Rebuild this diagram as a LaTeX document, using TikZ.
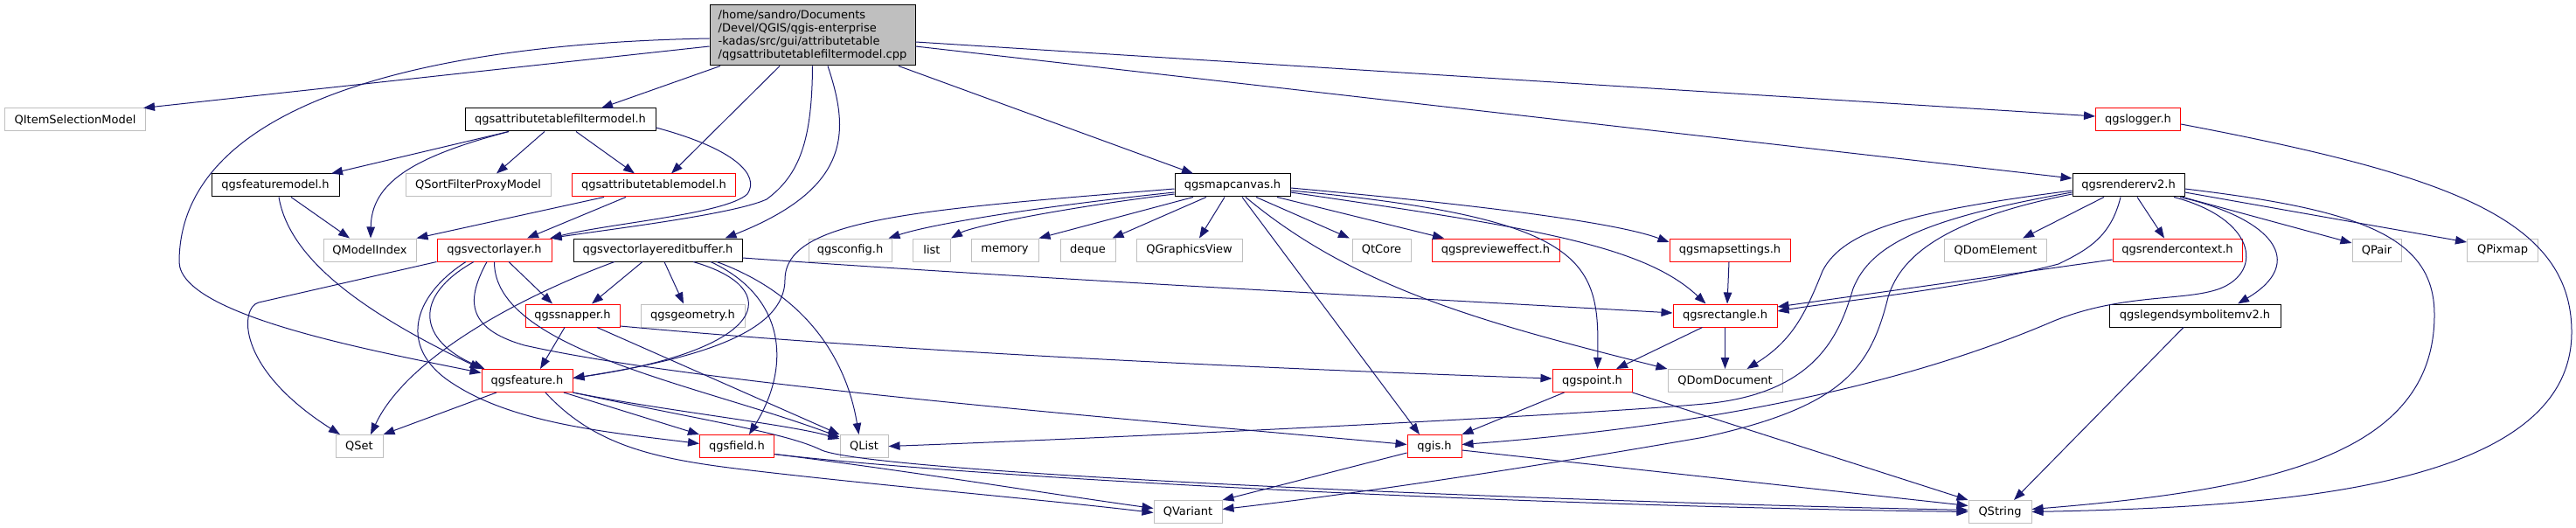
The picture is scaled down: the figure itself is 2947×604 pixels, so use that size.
\documentclass[tikz,border=0pt]{standalone}
\usepackage{fontspec}
\setmainfont{DejaVu Sans}
\usetikzlibrary{arrows.meta}
\definecolor{edgeblue}{HTML}{191970}
\definecolor{nodered}{HTML}{FF0000}
\definecolor{nodegray}{HTML}{BFBFBF}
\tikzset{
  nd/.style={draw, line width=1pt, fill=white, inner sep=0pt, minimum height=26pt,
    font=\fontsize{13}{15}\selectfont, anchor=center},
  rn/.style={nd, draw=nodered},
  bn/.style={nd, draw=black},
  gn/.style={nd, draw=nodegray},
  mn/.style={nd, draw=black, fill=nodegray, align=left},
  ed/.style={draw=edgeblue, line width=1pt, -{Triangle[length=13pt,width=9.5pt]}}
}
\begin{document}
\begin{tikzpicture}[x=1pt,y=-1pt]
\useasboundingbox (0,0) rectangle (2947,604);
% nodes
\node[mn, minimum width=235pt, minimum height=69pt] (main) at (929.5,40.5)
  {/home/sandro/Documents\\/Devel/QGIS/qgis-enterprise\\-kadas/src/gui/attributetable\\/qgsattributetablefiltermodel.cpp};
\node[gn, minimum width=161pt] (QISM) at (86,137) {QItemSelectionModel};
\node[bn, minimum width=218pt] (attrfilter) at (641,137) {qgsattributetablefiltermodel.h};
\node[rn, minimum width=97pt] (logger) at (2446,137) {qgslogger.h};
\node[bn, minimum width=146pt] (featuremodel) at (315,212) {qgsfeaturemodel.h};
\node[gn, minimum width=166pt] (QSFPM) at (547,212) {QSortFilterProxyModel};
\node[rn, minimum width=187pt] (attrtable) at (748,212) {qgsattributetablemodel.h};
\node[bn, minimum width=132pt] (mapcanvas) at (1410,212) {qgsmapcanvas.h};
\node[bn, minimum width=128pt] (rendererv2) at (2435,212) {qgsrendererv2.h};
\node[gn, minimum width=106pt] (QModelIndex) at (423,286) {QModelIndex};
\node[rn, minimum width=131pt] (vectorlayer) at (565.5,286) {qgsvectorlayer.h};
\node[bn, minimum width=193pt] (editbuffer) at (752.5,286) {qgsvectorlayereditbuffer.h};
\node[gn, minimum width=95pt] (qgsconfig) at (972.5,286) {qgsconfig.h};
\node[gn, minimum width=43pt] (list) at (1066,286) {list};
\node[gn, minimum width=77pt] (memory) at (1149.5,286) {memory};
\node[gn, minimum width=63pt] (deque) at (1244.5,286) {deque};
\node[gn, minimum width=121pt] (QGraphicsView) at (1360.5,286) {QGraphicsView};
\node[gn, minimum width=67pt] (QtCore) at (1580.5,286) {QtCore};
\node[rn, minimum width=146pt] (preview) at (1711,286) {qgspreview{}effect.h};
\node[rn, minimum width=138pt] (mapsettings) at (1979,286) {qgsmapsettings.h};
\node[gn, minimum width=117pt] (QDomElement) at (2283,286) {QDomElement};
\node[rn, minimum width=148pt] (rendercontext) at (2491,286) {qgsrendercontext.h};
\node[gn, minimum width=56pt] (QPair) at (2719,286) {QPair};
\node[gn, minimum width=81pt] (QPixmap) at (2863,286) {QPixmap};
\node[rn, minimum width=108pt] (snapper) at (655,361) {qgssnapper.h};
\node[gn, minimum width=119pt] (geometry) at (792.5,361) {qgsgeometry.h};
\node[rn, minimum width=119pt] (rectangle) at (1973.5,361) {qgsrectangle.h};
\node[bn, minimum width=196pt] (legend) at (2511,361) {qgslegendsymbolitemv2.h};
\node[rn, minimum width=104pt] (feature) at (603,435.5) {qgsfeature.h};
\node[rn, minimum width=91pt] (qgspoint) at (1821.5,435.5) {qgspoint.h};
\node[gn, minimum width=131pt] (QDomDocument) at (1973.5,435.5) {QDomDocument};
\node[gn, minimum width=54pt] (QSet) at (411,510.5) {QSet};
\node[rn, minimum width=85pt] (qgsfield) at (843,510.5) {qgsfield.h};
\node[gn, minimum width=55pt] (QList) at (988.5,510.5) {QList};
\node[rn, minimum width=62pt] (qgis) at (1641,510.5) {qgis.h};
\node[gn, minimum width=78pt] (QVariant) at (1359,585.5) {QVariant};
\node[gn, minimum width=72pt] (QString) at (2288,585.5) {QString};
% edges from main
\draw[ed] ([shift={(0,12.5)}]main.west) -- ([shift={(-3,0)}]QISM.north east);
\draw[ed] ([shift={(0,3.5)}]main.west) .. controls (480,50) and (205,120) .. (205,300)
  .. controls (207,360) and (420,400) .. ([shift={(0,-9)}]feature.west);
\draw[ed] ([shift={(-105.5,0)}]main.south) -- ([shift={(47,0)}]attrfilter.north);
\draw[ed] ([shift={(-37.5,0)}]main.south) -- ([shift={(20,0)}]attrtable.north);
\draw[ed] (main.south) .. controls (929,160) and (915,200) .. (877,228)
  .. controls (840,245) and (700,262) .. ([shift={(-2,0)}]vectorlayer.north east);
\draw[ed] ([shift={(17.5,0)}]main.south) .. controls (972,150) and (975,215) .. ([shift={(-20,0)}]editbuffer.north east);
\draw[ed] ([shift={(98.5,0)}]main.south) -- ([shift={(-45,0)}]mapcanvas.north);
\draw[ed] ([shift={(0,7.5)}]main.east) -- ([shift={(0,-4)}]logger.west);
\draw[ed] ([shift={(0,12.5)}]main.east) -- ([shift={(0,-8)}]rendererv2.west);
% attrfilter
\draw[ed] ([shift={(-59,0)}]attrfilter.south) -- ([shift={(64,0)}]featuremodel.north);
\draw[ed] ([shift={(-59,0)}]attrfilter.south) .. controls (470,180) and (425,210) .. ([shift={(1,0)}]QModelIndex.north);
\draw[ed] ([shift={(-18,0)}]attrfilter.south) -- ([shift={(21,0)}]QSFPM.north);
\draw[ed] ([shift={(18,0)}]attrfilter.south) -- ([shift={(-22,0)}]attrtable.north);
\draw[ed] ([shift={(0,9)}]attrfilter.east) .. controls (840,170) and (870,200) .. (855,222)
  .. controls (830,245) and (700,255) .. ([shift={(-2,0)}]vectorlayer.north east);
% featuremodel
\draw[ed] ([shift={(18,0)}]featuremodel.south) -- ([shift={(-23,0)}]QModelIndex.north);
\draw[ed] ([shift={(4,0)}]featuremodel.south) .. controls (330,290) and (400,350) .. (feature.north west);
% attrtable
\draw[ed] ([shift={(-57,0)}]attrtable.south) -- (QModelIndex.north east);
\draw[ed] ([shift={(-32,0)}]attrtable.south) -- ([shift={(37.5,0)}]vectorlayer.north);
% vectorlayer
\draw[ed] (vectorlayer.south west) -- (296,346) .. controls (275,351) and (268,420) .. ([shift={(-22,0)}]QSet.north);
\draw[ed] ([shift={(-23.5,0)}]vectorlayer.south) .. controls (470,340) and (480,390) .. ([shift={(4,0)}]feature.north west);
\draw[ed] ([shift={(-32.5,0)}]vectorlayer.south) .. controls (470,340) and (455,400) .. (520,440)
  .. controls (590,485) and (700,495) .. ([shift={(0,-3)}]qgsfield.west);
\draw[ed] ([shift={(16.5,0)}]vectorlayer.south) -- ([shift={(-23,0)}]snapper.north);
\draw[ed] ([shift={(-8.5,0)}]vectorlayer.south) .. controls (535,340) and (530,375) .. (600,395)
  .. controls (800,440) and (1300,480) .. ([shift={(0,-2)}]qgis.west);
\draw[ed] (vectorlayer.south) .. controls (565,400) and (800,440) .. ([shift={(0,3)}]QList.north west);
% feature
\draw[ed] ([shift={(-35,0)}]feature.south) -- (QSet.north east);
\draw[ed] ([shift={(42,0)}]feature.south) -- (qgsfield.north west);
\draw[ed] (feature.south east) .. controls (760,470) and (900,485) .. ([shift={(0,5)}]QList.north west);
\draw[ed] (feature.south east) .. controls (800,480) and (900,495) .. (940,515)
  .. controls (1000,540) and (1700,572) .. ([shift={(0,-2)}]QString.west);
\draw[ed] ([shift={(21,0)}]feature.south) .. controls (680,510) and (750,525) .. (850,537)
  .. controls (1000,555) and (1200,572) .. ([shift={(0,1)}]QVariant.west);
% qgsfield
\draw[ed] ([shift={(0,9)}]qgsfield.east) .. controls (1050,540) and (1200,565) .. ([shift={(0,-4)}]QVariant.west);
\draw[ed] ([shift={(0,9)}]qgsfield.east) .. controls (1100,545) and (1700,578) .. (QString.west);
% editbuffer
\draw[ed] ([shift={(-49.5,0)}]editbuffer.south) .. controls (620,330) and (470,400) .. ([shift={(13,0)}]QSet.north);
\draw[ed] ([shift={(-17.5,0)}]editbuffer.south) -- ([shift={(22,0)}]snapper.north);
\draw[ed] ([shift={(7.5,0)}]editbuffer.south) -- ([shift={(-10.5,0)}]geometry.north);
\draw[ed] ([shift={(40.5,0)}]editbuffer.south) .. controls (900,330) and (880,400) .. ([shift={(0,-3)}]feature.east);
\draw[ed] ([shift={(60.5,0)}]editbuffer.south) .. controls (900,340) and (905,420) .. ([shift={(14,0)}]qgsfield.north);
\draw[ed] ([shift={(67.5,0)}]editbuffer.south) .. controls (930,340) and (970,420) .. ([shift={(-6,0)}]QList.north);
\draw[ed] ([shift={(0,9)}]editbuffer.east) .. controls (1200,320) and (1600,340) .. ([shift={(0,-3)}]rectangle.west);
% snapper
\draw[ed] ([shift={(-9,0)}]snapper.south) -- ([shift={(15,0)}]feature.north);
\draw[ed] ([shift={(28,0)}]snapper.south) -- (QList.north west);
\draw[ed] ([shift={(0,12)}]snapper.east) .. controls (1000,400) and (1400,420) .. ([shift={(0,-2.5)}]qgspoint.west);
% mapcanvas
\draw[ed] ([shift={(0,4)}]mapcanvas.west) .. controls (1050,240) and (898,250) .. (898,320)
  .. controls (898,380) and (800,410) .. ([shift={(0,-3)}]feature.east);
\draw[ed] ([shift={(0,8)}]mapcanvas.west) .. controls (1200,235) and (1070,255) .. ([shift={(-4,0)}]qgsconfig.north east);
\draw[ed] ([shift={(0,10)}]mapcanvas.west) .. controls (1200,240) and (1110,260) .. (list.north east);
\draw[ed] ([shift={(-45,0)}]mapcanvas.south) -- (memory.north east);
\draw[ed] ([shift={(-30,0)}]mapcanvas.south) -- ([shift={(-4,0)}]deque.north east);
\draw[ed] ([shift={(-9,0)}]mapcanvas.south) -- ([shift={(11.5,0)}]QGraphicsView.north);
\draw[ed] ([shift={(11,0)}]mapcanvas.south) -- ([shift={(-17,0)}]qgis.north);
\draw[ed] ([shift={(15,0)}]mapcanvas.south) .. controls (1550,330) and (1700,370) .. (QDomDocument.north west);
\draw[ed] ([shift={(27,0)}]mapcanvas.south) -- ([shift={(-36.5,0)}]QtCore.north);
\draw[ed] ([shift={(51,0)}]mapcanvas.south) -- ([shift={(-59,0)}]preview.north);
\draw[ed] ([shift={(0,6)}]mapcanvas.east) .. controls (1820,250) and (1830,300) .. ([shift={(6,0)}]qgspoint.north);
\draw[ed] ([shift={(0,8)}]mapcanvas.east) .. controls (1750,260) and (1880,280) .. ([shift={(-22,0)}]rectangle.north);
\draw[ed] ([shift={(0,3)}]mapcanvas.east) .. controls (1700,235) and (1850,255) .. ([shift={(0,-9)}]mapsettings.west);
% mapsettings, rectangle, point, qgis
\draw[ed] ([shift={(-1,0)}]mapsettings.south) -- ([shift={(2.5,0)}]rectangle.north);
\draw[ed] ([shift={(-26,0)}]rectangle.south) -- ([shift={(27.5,0)}]qgspoint.north);
\draw[ed] (rectangle.south) -- (QDomDocument.north);
\draw[ed] ([shift={(-32,0)}]qgspoint.south) -- (qgis.north east);
\draw[ed] (qgspoint.south east) -- (QString.north west);
\draw[ed] ([shift={(0,7.5)}]qgis.west) -- (QVariant.north east);
\draw[ed] ([shift={(0,4.5)}]qgis.east) -- ([shift={(0,-7)}]QString.west);
\draw[ed] ([shift={(-13,0)}]legend.south) -- ([shift={(16,0)}]QString.north);
\draw[ed] ([shift={(0,5)}]logger.east) .. controls (2800,200) and (2942,250) .. (2942,380)
  .. controls (2942,560) and (2600,580) .. (QString.east);
\draw[ed] ([shift={(0,11)}]rendercontext.west) -- ([shift={(0,-10)}]rectangle.east);
% rendererv2
\draw[ed] ([shift={(0,6)}]rendererv2.west) .. controls (2200,240) and (2110,260) .. (2085,310)
  .. controls (2065,360) and (2050,390) .. ([shift={(25,0)}]QDomDocument.north);
\draw[ed] ([shift={(0,8)}]rendererv2.west) .. controls (2200,250) and (2140,280) .. (2120,330)
  .. controls (2105,380) and (2080,450) .. (1950,462)
  .. controls (1820,474) and (1300,500) .. (QList.east);
\draw[ed] ([shift={(0,10)}]rendererv2.west) .. controls (2230,250) and (2175,290) .. (2160,340)
  .. controls (2140,420) and (2110,465) .. (1950,500)
  .. controls (1750,535) and (1550,565) .. ([shift={(0,-3)}]QVariant.east);
\draw[ed] ([shift={(-28,0)}]rendererv2.south) -- ([shift={(31,0)}]QDomElement.north);
\draw[ed] ([shift={(-9,0)}]rendererv2.south) .. controls (2415,270) and (2390,285) .. (2355,302)
  .. controls (2250,330) and (2100,345) .. ([shift={(0,-5)}]rectangle.east);
\draw[ed] ([shift={(10,0)}]rendererv2.south) -- ([shift={(-15,0)}]rendercontext.north);
\draw[ed] ([shift={(52,0)}]rendererv2.south) .. controls (2580,250) and (2590,310) .. (2540,330)
  .. controls (2500,345) and (2430,335) .. (2350,367)
  .. controls (2250,410) and (2050,480) .. ([shift={(0,-2)}]qgis.east);
\draw[ed] ([shift={(59,0)}]rendererv2.south) .. controls (2600,250) and (2640,300) .. ([shift={(49,0)}]legend.north);
\draw[ed] ([shift={(62,0)}]rendererv2.south) -- ([shift={(0,-8)}]QPair.west);
\draw[ed] ([shift={(0,8)}]rendererv2.east) -- ([shift={(0,-9)}]QPixmap.west);
\draw[ed] ([shift={(0,4)}]rendererv2.east) .. controls (2700,240) and (2785,270) .. (2785,360)
  .. controls (2785,520) and (2600,560) .. ([shift={(0,-3)}]QString.east);
\end{tikzpicture}
\end{document}
